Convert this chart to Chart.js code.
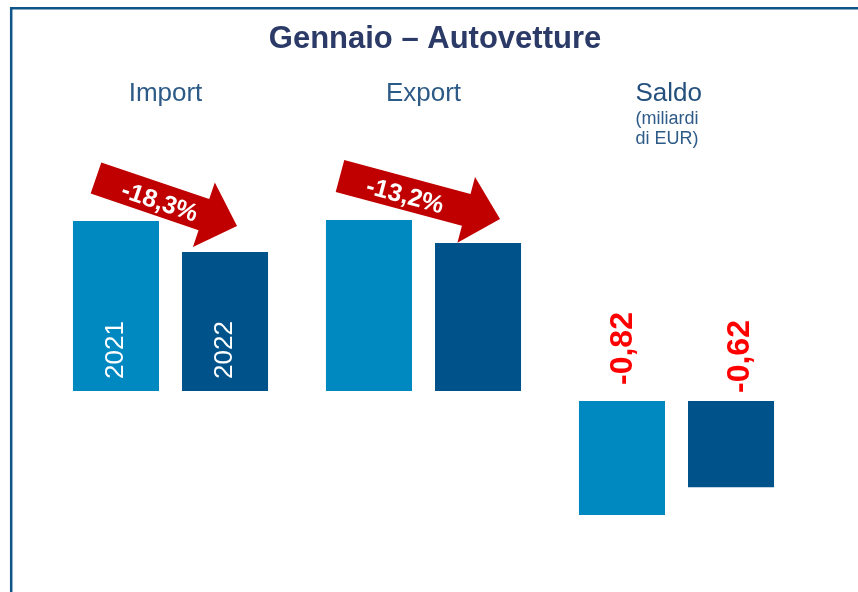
<!DOCTYPE html>
<html lang="it">
<head>
<meta charset="utf-8">
<title>Gennaio – Autovetture</title>
<script src="https://cdn.jsdelivr.net/npm/chart.js@4.4.1/dist/chart.umd.min.js"></script>
<style>
  html, body { margin: 0; padding: 0; background: #fff; }
  #wrap { width: 858px; height: 592px; position: relative; }
</style>
</head>
<body>
<div id="wrap"><canvas id="autoChart"></canvas></div>
<script>
// data
const categories = ['Import', 'Export', 'Saldo'];
const years = ['2021', '2022'];
// import / export bar heights (same scale, no unit shown)
const trade2021 = [1.70, 1.71, null];
const trade2022 = [1.39, 1.48, null];
// saldo in miliardi di EUR, drawn on its own scale
const saldo2021 = [null, null, -0.82];
const saldo2022 = [null, null, -0.62];
const changeLabels = ['-18,3%', '-13,2%'];

const FONT = '"Liberation Sans", Arial, Helvetica, sans-serif';
const LIGHT = '#0088C1';
const DARK = '#00538A';

function fmt(v) {
  return v.toFixed(2).replace('.', ',');
}

// title, headers, arrows and labels drawn on top of the bars
const decorations = {
  id: 'decorations',
  afterDatasetsDraw(chart) {
    const ctx = chart.ctx;
    const xs = chart.scales.x;
    ctx.save();

    // frame (left + top)
    ctx.strokeStyle = '#0F5587';
    ctx.lineWidth = 2.5;
    ctx.beginPath();
    ctx.moveTo(11.2, 592);
    ctx.lineTo(11.2, 8.2);
    ctx.lineTo(858, 8.2);
    ctx.stroke();

    // title
    ctx.fillStyle = '#2B3A67';
    ctx.font = 'bold 31px ' + FONT;
    ctx.textAlign = 'center';
    ctx.textBaseline = 'alphabetic';
    ctx.fillText('Gennaio – Autovetture', 435, 48);

    // category headers
    ctx.font = '26px ' + FONT;
    ctx.fillStyle = '#2D5A87';
    ctx.fillText(categories[0], xs.getPixelForValue(0) - 5, 101);
    ctx.fillText(categories[1], xs.getPixelForValue(1), 101);
    const sx = xs.getPixelForValue(2) - 41;
    ctx.textAlign = 'left';
    ctx.fillStyle = '#24507E';
    ctx.fillText(categories[2], sx, 101);
    ctx.font = '18px ' + FONT;
    ctx.fillStyle = '#2D5A87';
    ctx.fillText('(miliardi', sx, 124);
    ctx.fillText('di EUR)', sx, 144);

    const m21 = chart.getDatasetMeta(0).data;
    const m22 = chart.getDatasetMeta(1).data;

    // year labels inside the import bars
    ctx.font = '26px ' + FONT;
    ctx.fillStyle = '#ffffff';
    [m21[0], m22[0]].forEach((bar, i) => {
      ctx.save();
      ctx.translate(bar.x + 7, bar.base - 12);
      ctx.rotate(-Math.PI / 2);
      ctx.textAlign = 'left';
      ctx.fillText(years[i], 0, 0);
      ctx.restore();
    });

    // red arrows with the % change (tail over the 2021 bar, tip over the 2022 bar)
    const arrowAnchors = [
      { tail: [-20, -43], tip: [12, -26] },
      { tail: [-29, -44], tip: [22, -24] }
    ];
    for (let i = 0; i < 2; i++) {
      const a = m21[i], b = m22[i];
      const k = arrowAnchors[i];
      const tx = a.x + k.tail[0], ty = a.y + k.tail[1];
      const px = b.x + k.tip[0], py = b.y + k.tip[1];
      const len = Math.hypot(px - tx, py - ty);
      const ang = Math.atan2(py - ty, px - tx);
      const hw = 16.5, hh = 34, hl = 35;
      ctx.save();
      ctx.translate(tx, ty);
      ctx.rotate(ang);
      ctx.fillStyle = '#C00000';
      ctx.beginPath();
      ctx.moveTo(0, -hw);
      ctx.lineTo(len - hl, -hw);
      ctx.lineTo(len - hl, -hh);
      ctx.lineTo(len, 0);
      ctx.lineTo(len - hl, hh);
      ctx.lineTo(len - hl, hw);
      ctx.lineTo(0, hw);
      ctx.closePath();
      ctx.fill();
      ctx.fillStyle = '#ffffff';
      ctx.font = 'bold 25px ' + FONT;
      ctx.textAlign = 'center';
      ctx.textBaseline = 'middle';
      ctx.fillText(changeLabels[i], 68, 3);
      ctx.restore();
    }

    // saldo values above the negative bars
    const shifts = [{ dx: 10, gap: 16 }, { dx: 18, gap: 8 }];
    [chart.getDatasetMeta(2), chart.getDatasetMeta(3)].forEach((meta, i) => {
      const bar = meta.data[2];
      const v = chart.data.datasets[2 + i].data[2];
      ctx.save();
      ctx.translate(bar.x + shifts[i].dx, bar.base - shifts[i].gap);
      ctx.rotate(-Math.PI / 2);
      ctx.font = 'bold 32px ' + FONT;
      ctx.fillStyle = '#FF0000';
      ctx.textAlign = 'left';
      ctx.textBaseline = 'alphabetic';
      ctx.fillText(fmt(v), 0, 0);
      ctx.restore();
    });

    ctx.restore();
  }
};

const barOpts = { categoryPercentage: 0.862, barPercentage: 0.789, skipNull: true, borderWidth: 0 };

new Chart(document.getElementById('autoChart'), {
  type: 'bar',
  data: {
    labels: categories,
    datasets: [
      { label: years[0], data: trade2021, backgroundColor: LIGHT, yAxisID: 'y', ...barOpts },
      { label: years[1], data: trade2022, backgroundColor: DARK, yAxisID: 'y', ...barOpts },
      { label: years[0] + ' saldo', data: saldo2021, backgroundColor: LIGHT, yAxisID: 'ySaldo', ...barOpts },
      { label: years[1] + ' saldo', data: saldo2022, backgroundColor: DARK, yAxisID: 'ySaldo', ...barOpts }
    ]
  },
  options: {
    responsive: true,
    maintainAspectRatio: false,
    animation: false,
    events: [],
    layout: { padding: { left: 44, right: 55, top: 140, bottom: 32 } },
    plugins: { legend: { display: false }, tooltip: { enabled: false }, title: { display: false } },
    scales: {
      x: { display: false },
      y: { display: false, min: -1.69, max: 2.51 },
      ySaldo: { display: false, min: -1.1439, max: 1.8777 }
    }
  },
  plugins: [decorations]
});
</script>
</body>
</html>
